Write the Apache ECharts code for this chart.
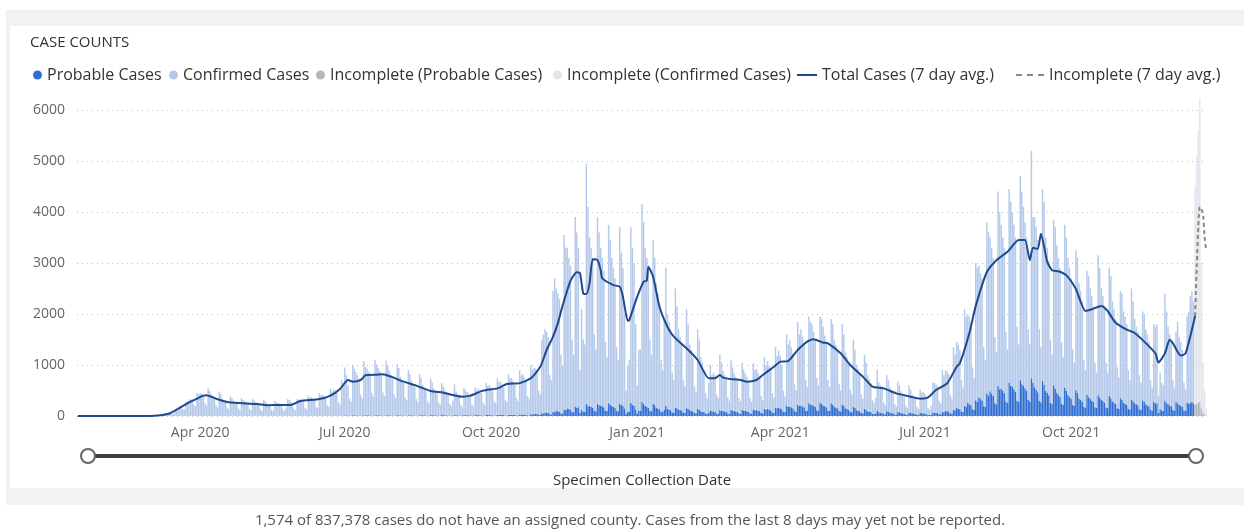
<!DOCTYPE html>
<html>
<head>
<meta charset="utf-8">
<script src="https://cdn.jsdelivr.net/npm/echarts@6/dist/echarts.min.js"></script>
<style>
  html, body { margin: 0; padding: 0; background: #fff; }
  #chart { width: 1244px; height: 529px; }
</style>
</head>
<body>
<div id="chart"></div>
<script>
// first day on the axis, one bar per day after it
var startDate = '2020-01-15';

// height of each complete daily bar (probable + confirmed), one row per week (Wed..Tue)
var dailyTotal = [
  0,0,0,0,0,0,0,
  0,0,0,0,0,0,0,
  0,0,0,0,0,0,0,
  0,0,0,0,0,0,0,
  0,0,0,0,0,0,0,
  0,0,0,0,0,0,0,
  0,0,0,0,0,1,2,
  4,6,8,5,5,18,24,
  30,40,50,38,42,90,110,
  140,160,190,140,130,270,290,
  320,330,320,220,190,450,430,
  450,430,400,250,210,550,490,
  420,390,350,210,170,480,430,
  330,300,280,160,130,390,350,
  300,280,260,150,120,350,320,
  290,270,240,140,115,340,300,
  270,250,230,130,105,320,290,
  250,230,210,120,100,300,260,
  260,240,220,130,100,160,330,
  320,280,250,140,110,340,310,
  330,310,290,160,130,400,370,
  370,340,320,180,150,450,400,
  420,390,360,210,180,540,480,
  520,500,460,270,230,700,650,
  950,800,600,340,280,1000,930,
  860,800,720,420,350,1080,960,
  930,870,790,450,380,1100,1010,
  940,880,800,460,390,1090,1000,
  880,810,740,430,360,1020,940,
  770,700,640,370,310,900,820,
  690,630,570,330,280,820,740,
  610,560,500,290,250,730,650,
  540,500,450,260,220,640,580,
  510,470,420,240,200,300,620,
  480,430,380,220,180,550,500,
  470,430,390,220,190,560,510,
  540,500,450,260,220,650,590,
  610,560,500,290,250,740,660,
  680,620,560,320,280,820,740,
  740,670,610,350,300,900,800,
  820,760,680,390,340,1000,900,
  950,930,900,500,420,1500,1600,
  1700,1650,1550,800,700,2450,2700,
  2500,2400,2300,1200,1000,3550,3300,
  3300,3100,2950,1500,1200,3900,3600,
  3300,900,2100,1500,1400,4950,4100,
  3500,3300,3100,1600,1300,3900,3600,
  3300,3100,2850,1450,1150,3750,3450,
  3100,2900,2700,1350,1100,3700,3200,
  2900,2000,500,1000,1100,3700,3300,
  3000,1800,600,1300,1300,4150,3800,
  3300,3100,2900,1500,1200,3450,3100,
  2600,2400,2200,1100,900,1900,2900,
  2000,1850,1700,850,700,2500,2150,
  1700,1550,1400,700,580,2100,1800,
  1400,1300,1150,580,480,1700,1500,
  1150,1050,900,450,350,650,1000,
  800,850,800,420,350,1200,1050,
  880,800,730,370,300,1100,950,
  840,770,700,350,290,1050,910,
  830,760,690,350,280,1030,900,
  920,850,770,390,310,1160,1000,
  1080,990,900,450,360,1350,1170,
  1280,1180,1000,500,380,1600,1400,
  1480,1350,1230,620,500,1850,1600,
  1700,1560,1420,710,570,1950,1850,
  1800,1650,1500,750,600,1950,1900,
  1750,1580,1420,710,570,1900,1800,
  1500,1390,1260,630,500,1800,1600,
  1260,1160,1050,520,420,1500,1300,
  1000,920,840,420,340,1200,1050,
  800,720,640,310,250,350,900,
  660,600,540,270,220,800,700,
  560,510,460,230,180,680,600,
  480,440,380,200,160,600,520,
  420,390,350,180,140,520,460,
  470,430,330,160,120,200,650,
  650,620,580,300,240,900,800,
  900,870,820,420,340,1350,1200,
  1450,1400,1300,700,560,2100,1950,
  2000,1950,1850,950,750,3000,2900,
  2950,2800,2700,1350,1100,3800,3600,
  3500,3300,3100,1550,1250,4400,4000,
  3750,3500,3300,1650,1300,4450,4200,
  4000,3750,3500,1750,1400,4700,4400,
  4100,3800,3500,1700,1400,5200,3900,
  3900,3700,3450,1700,1350,4450,4200,
  3500,3300,3050,1500,1200,3850,3700,
  3350,3100,2900,1450,1150,3750,3500,
  3100,2900,2700,1300,1050,3250,3100,
  2600,2450,2250,1100,900,2850,2750,
  2500,2350,2150,1050,850,3150,2900,
  2500,2350,2150,1050,850,2900,2750,
  2250,2100,1900,950,750,2450,2400,
  2050,1950,1800,900,700,2500,2250,
  1900,1750,1650,800,650,2050,2000,
  1700,1600,1450,700,560,1800,1750,
  1800,400,850,650,600,2400,2050,
  1750,1600,1450,700,560,1650,1850,
  1550,1450,1300,650,520,1950,2050,
  2350,2450,2250
];

// probable cases per day, same rows
var probable = [
  0,0,0,0,0,0,0, 0,0,0,0,0,0,0, 0,0,0,0,0,0,0, 0,0,0,0,0,0,0, 0,0,0,0,0,0,0,
  0,0,0,0,0,0,0, 0,0,0,0,0,0,0, 0,0,0,0,0,0,0, 0,0,0,0,0,0,0, 0,0,0,0,0,0,0,
  0,0,0,0,0,2,2,
  3,3,3,2,1,4,4,
  3,3,3,2,1,4,3,
  3,2,2,1,1,3,3,
  3,2,2,1,1,3,3,
  2,2,2,1,1,3,3,
  2,2,2,1,1,3,3,
  2,2,2,1,1,3,2,
  2,2,2,1,1,2,3,
  3,2,2,1,1,3,3,
  3,3,3,2,1,4,3,
  4,3,3,2,1,4,4,
  4,4,3,2,2,5,4,
  5,5,4,3,2,7,6,
  12,11,9,6,5,14,13,
  12,11,10,6,5,14,13,
  13,12,10,6,5,15,14,
  13,12,10,6,5,15,14,
  12,11,10,6,5,14,13,
  12,11,10,6,5,14,13,
  13,12,10,6,5,15,14,
  15,14,12,8,6,18,16,
  15,14,12,8,6,18,16,
  15,14,12,8,6,8,17,
  16,14,12,8,6,18,16,
  16,15,13,8,7,19,17,
  17,16,14,9,7,21,18,
  19,17,15,9,8,23,20,
  22,20,18,11,9,27,24,
  24,22,20,12,10,29,26,
  27,25,22,13,11,33,29,
  46,42,38,24,22,56,50,
  69,63,57,36,33,84,75,
  104,95,86,54,50,126,113,
  150,137,124,78,72,182,163,
  173,60,120,90,85,240,190,
  196,179,162,102,94,238,213,
  207,189,171,108,99,252,225,
  196,179,162,102,94,238,213,
  200,150,40,80,80,260,220,
  200,130,50,100,100,280,240,
  196,179,162,102,94,238,213,
  161,147,133,84,77,120,200,
  138,126,114,72,66,168,150,
  127,116,105,66,61,154,138,
  115,105,95,60,55,140,125,
  92,84,76,48,44,60,110,
  92,84,76,48,44,112,100,
  98,89,81,51,47,119,106,
  98,90,80,52,46,118,105,
  104,95,86,54,50,126,113,
  115,105,95,60,55,140,125,
  138,126,114,72,66,168,150,
  161,147,133,84,77,196,175,
  184,168,152,96,88,224,200,
  207,189,171,108,99,252,225,
  219,200,181,114,105,266,238,
  207,189,171,108,99,252,225,
  184,168,152,96,88,224,200,
  150,137,124,78,72,182,163,
  115,105,95,60,55,140,125,
  92,84,76,48,44,50,110,
  75,68,62,39,36,91,81,
  63,58,52,33,30,77,69,
  58,53,48,30,28,70,63,
  52,47,43,27,25,63,56,
  52,47,35,22,20,25,70,
  69,63,57,36,33,84,75,
  104,95,86,54,50,126,113,
  161,147,133,84,77,196,175,
  253,231,209,132,121,308,275,
  368,336,304,192,176,448,400,
  483,441,399,252,231,588,525,
  541,494,447,282,259,658,588,
  575,525,475,300,275,700,625,
  598,546,494,312,286,740,650,
  564,515,466,294,270,686,613,
  495,452,409,258,237,602,538,
  460,420,380,240,220,560,500,
  414,378,342,216,198,504,450,
  345,315,285,180,165,420,375,
  334,305,276,174,160,406,363,
  322,294,266,168,154,392,350,
  288,263,238,150,138,350,313,
  265,242,219,138,127,322,288,
  253,231,209,132,121,308,275,
  230,210,190,120,110,280,250,
  250,60,130,110,100,300,260,
  230,210,190,120,110,280,250,
  219,200,181,114,105,266,238,
  260,280,250
];

// last 8 days (incomplete)
var incompleteTotal    = [4520, 5100, 5600, 6230, 3000, 1060, 500, 150];
var incompleteProbable = [220, 240, 260, 280, 150, 60, 30, 10];

// 7 day average
var avgDates = [
  '2020-01-15','2020-02-29','2020-03-07','2020-03-13','2020-03-21','2020-03-26','2020-04-03','2020-04-05',
  '2020-04-12','2020-04-18','2020-04-26','2020-05-07','2020-05-13','2020-05-21','2020-05-28','2020-06-03',
  '2020-06-15','2020-06-22','2020-06-28','2020-07-03','2020-07-06','2020-07-11','2020-07-14','2020-07-21',
  '2020-07-25','2020-07-30','2020-08-07','2020-08-15','2020-08-24','2020-09-01','2020-09-07','2020-09-13',
  '2020-09-18','2020-09-26','2020-10-05','2020-10-11','2020-10-19','2020-10-26','2020-11-01','2020-11-05',
  '2020-11-09','2020-11-12','2020-11-15','2020-11-20','2020-11-24','2020-11-26','2020-11-28','2020-11-30',
  '2020-12-02','2020-12-04','2020-12-07','2020-12-09','2020-12-10','2020-12-17','2020-12-21','2020-12-23',
  '2020-12-26','2020-12-27','2021-01-01','2021-01-05','2021-01-07','2021-01-08','2021-01-11','2021-01-15',
  '2021-01-20','2021-01-24','2021-02-01','2021-02-08','2021-02-15','2021-02-19','2021-02-22','2021-02-24',
  '2021-03-02','2021-03-07','2021-03-11','2021-03-17','2021-03-21','2021-03-28','2021-04-01','2021-04-06',
  '2021-04-12','2021-04-18','2021-04-22','2021-04-28','2021-05-01','2021-05-09','2021-05-15','2021-05-23',
  '2021-05-29','2021-06-05','2021-06-13','2021-06-22','2021-06-28','2021-07-03','2021-07-08','2021-07-15',
  '2021-07-21','2021-07-23','2021-07-29','2021-08-02','2021-08-09','2021-08-15','2021-08-22','2021-08-29',
  '2021-09-02','2021-09-05','2021-09-07','2021-09-10','2021-09-12','2021-09-16','2021-09-19','2021-09-23',
  '2021-09-28','2021-10-04','2021-10-10','2021-10-14','2021-10-20','2021-10-24','2021-10-29','2021-11-05',
  '2021-11-10','2021-11-17','2021-11-23','2021-11-25','2021-11-29','2021-12-02','2021-12-04','2021-12-09',
  '2021-12-12','2021-12-15','2021-12-18'
];
var avgValues = [
  0,0,15,53,196,280,400,408,
  327,275,255,235,212,215,218,294,
  333,400,530,706,673,706,798,810,
  817,771,673,595,490,457,412,379,
  399,497,542,627,645,739,967,1294,
  1555,1817,2160,2650,2820,2800,2405,2390,
  2601,3075,3059,2862,2699,2568,2535,2339,
  1869,1882,2339,2634,2653,2928,2732,2143,
  1751,1555,1327,1098,739,739,804,752,
  719,706,673,706,804,967,1065,1078,
  1294,1457,1503,1438,1425,1229,1000,771,
  575,542,444,379,340,366,510,640,
  967,1031,1627,2159,2824,3055,3222,3453,
  3453,3055,3300,3275,3573,3022,2857,2837,
  2757,2490,2059,2092,2159,2059,1827,1694,
  1627,1429,1229,1051,1229,1496,1429,1184,
  1229,1563,1961
];
var incompleteAvgDates  = ['2021-12-18','2021-12-19','2021-12-20','2021-12-21','2021-12-22','2021-12-23','2021-12-24','2021-12-25'];
var incompleteAvgValues = [1961, 2900, 3700, 4100, 4050, 3950, 3500, 3250];

var monthNames = ['Jan','Feb','Mar','Apr','May','Jun','Jul','Aug','Sep','Oct','Nov','Dec'];
var labelMonths = ['01','04','07','10'];

var fontFam = '"Segoe UI", "Open Sans", sans-serif';

// categories
var nDays = dailyTotal.length + incompleteTotal.length;
var dates = [];
var t0 = new Date(startDate + 'T00:00:00Z').getTime();
for (var i = 0; i < nDays; i++) {
    dates.push(new Date(t0 + i * 86400000).toISOString().slice(0, 10));
}
var dateIndex = {};
dates.forEach(function (d, i) { dateIndex[d] = i; });

// series arrays on the full axis
var nDone = dailyTotal.length;
var probData = [], confData = [], incProbData = [], incConfData = [];
for (var i = 0; i < nDays; i++) {
    if (i < nDone) {
        probData.push(probable[i]);
        confData.push(dailyTotal[i] - probable[i]);
        incProbData.push(0);
        incConfData.push(0);
    } else {
        var k = i - nDone;
        probData.push(0);
        confData.push(0);
        incProbData.push(incompleteProbable[k]);
        incConfData.push(incompleteTotal[k] - incompleteProbable[k]);
    }
}
function toLine(ds, vs) {
    var arr = dates.map(function () { return null; });
    ds.forEach(function (d, j) { arr[dateIndex[d]] = vs[j]; });
    return arr;
}
var avgData = toLine(avgDates, avgValues);
var incAvgData = toLine(incompleteAvgDates, incompleteAvgValues);

var chart = echarts.init(document.getElementById('chart'));

function legendAt(name, left, icon, w, h) {
    return {
        data: [{ name: name, icon: icon }],
        left: left, top: 66, padding: 0,
        itemWidth: w, itemHeight: h,
        selectedMode: false,
        textStyle: { fontSize: 16, color: '#333', fontFamily: fontFam, lineHeight: 18 }
    };
}

var option = {
    animation: false,
    textStyle: { fontFamily: fontFam },
    title: {
        text: 'CASE COUNTS', left: 30, top: 34, padding: 0,
        textStyle: { fontSize: 15, fontWeight: 'normal', color: '#333', lineHeight: 18 }
    },
    legend: [
        legendAt('Probable Cases', 33, 'circle', 9, 9),
        legendAt('Confirmed Cases', 169, 'circle', 9, 9),
        legendAt('Incomplete (Probable Cases)', 316, 'circle', 9, 9),
        legendAt('Incomplete (Confirmed Cases)', 553, 'circle', 9, 9),
        legendAt('Total Cases (7 day avg.)', 797, 'path://M0,0H20V2H0Z', 20, 2),
        legendAt('Incomplete (7 day avg.)', 1016, 'path://M0,0H6V2H0Z M11,0H17V2H11Z M22,0H28V2H22Z', 28, 2)
    ],
    grid: { left: 77, right: 37, top: 110, bottom: 113 },
    xAxis: {
        type: 'category',
        data: dates,
        boundaryGap: true,
        axisLine: { show: false },
        axisTick: { show: false },
        axisLabel: {
            color: '#666', fontSize: 14, margin: 10,
            interval: function (index, value) {
                return value.slice(8) === '01' && labelMonths.indexOf(value.slice(5, 7)) >= 0;
            },
            formatter: function (value) {
                return monthNames[parseInt(value.slice(5, 7), 10) - 1] + ' ' + value.slice(0, 4);
            }
        },
        name: 'Specimen Collection Date',
        nameLocation: 'middle',
        nameGap: 57,
        nameTextStyle: { color: '#333', fontSize: 15 }
    },
    yAxis: {
        type: 'value',
        min: 0, max: 6000, interval: 1000,
        axisLine: { show: false },
        axisTick: { show: false },
        axisLabel: { color: '#666', fontSize: 14, margin: 12, formatter: function (v) { return String(v); } },
        splitLine: { lineStyle: { type: [1, 4], color: '#bdbdbd' } }
    },
    dataZoom: [{
        type: 'slider', xAxisIndex: 0, filterMode: 'none',
        start: 0, end: 100,
        left: 85, right: 49, top: 454, height: 4,
        showDetail: false, showDataShadow: false, brushSelect: false,
        moveHandleSize: 0,
        backgroundColor: 'transparent', borderColor: 'transparent',
        fillerColor: '#3f3f3f',
        handleIcon: 'circle', handleSize: 14,
        handleStyle: { color: '#fff', borderColor: '#666', borderWidth: 2 }
    }],
    graphic: [
        { type: 'rect', shape: { x: 6, y: 10, width: 1238, height: 16 }, style: { fill: '#f2f2f2' }, silent: true },
        { type: 'rect', shape: { x: 6, y: 10, width: 4, height: 478 }, style: { fill: '#f2f2f2' }, silent: true },
        { type: 'rect', shape: { x: 6, y: 488, width: 1238, height: 17 }, style: { fill: '#f2f2f2' }, silent: true },
        {
            type: 'text', x: 630, y: 521, silent: true,
            style: {
                text: '1,574 of 837,378 cases do not have an assigned county. Cases from the last 8 days may yet not be reported.',
                align: 'center', verticalAlign: 'middle',
                fontSize: 15, fill: '#555', fontFamily: fontFam
            }
        }
    ],
    series: [
        { name: 'Probable Cases', type: 'bar', stack: 'day', data: probData,
          barCategoryGap: '8%', itemStyle: { color: '#2f6ed3' } },
        { name: 'Confirmed Cases', type: 'bar', stack: 'day', data: confData,
          itemStyle: { color: '#b5c9ea' } },
        { name: 'Incomplete (Probable Cases)', type: 'bar', stack: 'day', data: incProbData,
          clip: false, itemStyle: { color: '#b3b7bf' } },
        { name: 'Incomplete (Confirmed Cases)', type: 'bar', stack: 'day', data: incConfData,
          clip: false, itemStyle: { color: '#e2e5eb' } },
        { name: 'Total Cases (7 day avg.)', type: 'line', data: avgData, connectNulls: true,
          showSymbol: false, smooth: 0.2, z: 5,
          itemStyle: { color: '#1e4a8b' }, lineStyle: { color: '#1e4a8b', width: 2 } },
        { name: 'Incomplete (7 day avg.)', type: 'line', data: incAvgData, connectNulls: true,
          showSymbol: false, smooth: 0.3, z: 5, clip: false,
          itemStyle: { color: '#888' }, lineStyle: { color: '#888', width: 2, type: [4, 3] } }
    ]
};
chart.setOption(option);
</script>
</body>
</html>
